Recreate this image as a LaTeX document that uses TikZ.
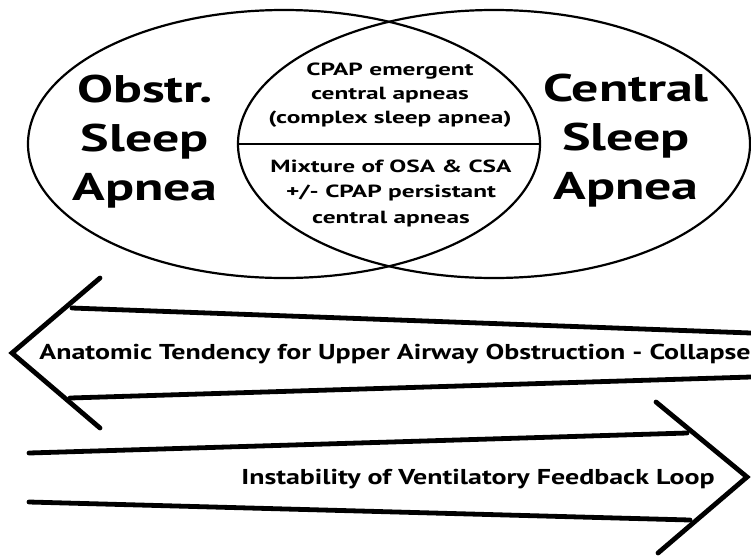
\documentclass[tikz,border=0pt]{standalone}
\usepackage{fontspec}
\setmainfont{PT Sans}
\newfontfamily\bigfont[FakeStretch=1.4]{PT Sans}
\newfontfamily\lensfont[FakeStretch=1.44]{PT Sans}
\newfontfamily\arrowfont[FakeStretch=1.3]{PT Sans}
\usetikzlibrary{shapes.geometric}
\begin{document}
\begin{tikzpicture}[x=1pt,y=-1pt,
  ring/.style={ellipse, draw, line width=2.2pt, minimum width=512pt, minimum height=268pt, inner sep=0pt},
  divider/.style={line width=2.4pt},
  bigarrow/.style={line width=4.8pt, line cap=round, line join=miter},
  bigtxt/.style={font=\bigfont\bfseries\fontsize{38.5}{49}\selectfont, align=center, inner sep=0pt},
  lenstxt/.style={font=\lensfont\bfseries\fontsize{17.6}{24}\selectfont, align=center, inner sep=0pt},
  arrtxt/.style={font=\arrowfont\bfseries\fontsize{21.5}{24}\selectfont, inner sep=0pt, anchor=base}]
\useasboundingbox (0,0) rectangle (751,555);

% Venn diagram of the two apnea types
\node[ring] (osa) at (284,144) {};
\node[ring] (csa) at (494,144) {};
\draw[divider] (csa.west) -- (osa.east);

\node[bigtxt] (osatxt) at (145,142) {Obstr.\\Sleep\\Apnea};
\node[bigtxt] (csatxt) at (626,141) {Central\\Sleep\\Apnea};
\node[lenstxt] (emergent) at (390,95) {CPAP emergent\\central apneas\\(complex sleep apnea)};
\node[lenstxt, font=\lensfont\bfseries\fontsize{17.6}{25.5}\selectfont] (mixture) at (391,193) {Mixture of OSA \& CSA\\+/- CPAP persistant\\central apneas};

% Left-pointing arrow: upper airway collapse
\coordinate (la-tip) at (12,353);
\coordinate (la-top) at (100,278);
\coordinate (la-bot) at (100,428);
\coordinate (la-s1) at (72,308);
\coordinate (la-e1) at (751,333);
\coordinate (la-s2) at (70,398);
\coordinate (la-e2) at (751,377);
\draw[bigarrow] (la-top) -- (la-tip) -- (la-bot);
\draw[bigarrow] (la-s1) -- (la-e1);
\draw[bigarrow] (la-s2) -- (la-e2);
\node[arrtxt] (anat) at (395,359.5) {Anatomic Tendency for Upper Airway Obstruction - Collapse};

% Right-pointing arrow: feedback loop instability
\coordinate (ra-tip) at (747,477);
\coordinate (ra-top) at (656,402);
\coordinate (ra-bot) at (658,553);
\coordinate (ra-s1) at (29,453);
\coordinate (ra-e1) at (687,433);
\coordinate (ra-s2) at (29,502);
\coordinate (ra-e2) at (690,520);
\draw[bigarrow] (ra-top) -- (ra-tip) -- (ra-bot);
\draw[bigarrow] (ra-s1) -- (ra-e1);
\draw[bigarrow] (ra-s2) -- (ra-e2);
\node[arrtxt] (instab) at (478,484.5) {Instability of Ventilatory Feedback Loop};
\end{tikzpicture}
\end{document}
